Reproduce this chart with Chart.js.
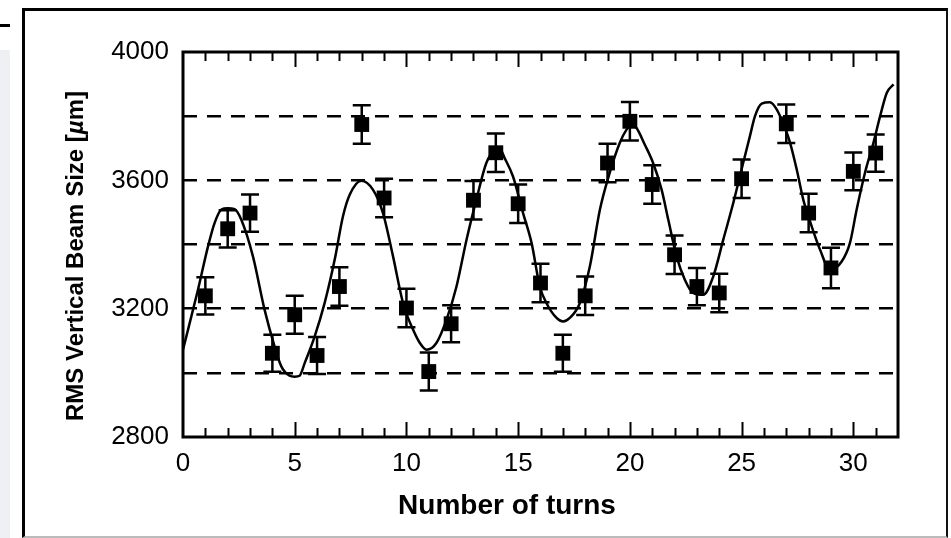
<!DOCTYPE html>
<html lang="en">
<head>
    <meta charset="UTF-8">
    <title>RMS Vertical Beam Size vs Number of turns</title>
    <script src="https://cdn.jsdelivr.net/npm/chart.js"></script>
    <style>
        html, body {
            margin: 0;
            padding: 0;
            background: #fff;
        }
        body {
            width: 951px;
            height: 538px;
            position: relative;
            overflow: hidden;
        }
        .frame {
            position: absolute;
            left: 22px;
            top: 8px;
            width: 921px;
            height: 525px;
            border-left: 3px solid #000;
            border-top: 3px solid #000;
            border-right: 2px solid #111;
            border-bottom: 2px solid #bbb;
        }
        .side {
            position: absolute;
            left: 0;
            top: 50px;
            width: 10px;
            height: 488px;
            background: #eef0f4;
        }
        .dash {
            position: absolute;
            left: 0;
            top: 24px;
            width: 10px;
            height: 3px;
            background: #000;
        }
        canvas {
            position: absolute;
            left: 0;
            top: 0;
        }
    </style>
</head>
<body>
    <div class="side"></div>
    <div class="dash"></div>
    <div class="frame"></div>
    <canvas id="chart" width="951" height="538"></canvas>

    <script>
        // measured turns and beam size (um), with error bar half-widths
        const turns = [1, 2, 3, 4, 5, 6, 7, 8, 9, 10, 11, 12, 13, 14, 15, 16, 17, 18, 19, 20, 21, 22, 23, 24, 25, 27, 28, 29, 30, 31];
        const beamSize = [3240, 3449, 3498, 3061, 3181, 3054, 3269, 3774, 3545, 3202, 3004, 3153, 3538, 3686, 3527,
                          3280, 3061, 3240, 3654, 3784, 3587, 3368, 3269, 3249, 3605, 3776, 3498, 3327, 3628, 3685];
        const beamErr = [58, 58, 58, 58, 59, 58, 60, 60, 60, 60, 59, 58, 60, 60, 60,
                         60, 58, 60, 60, 60, 60, 60, 58, 60, 60, 60, 60, 63, 59, 58];

        // fitted curve
        const fitTurns = [0, 0.67, 1.12, 1.42, 1.72, 2.0, 2.31, 2.61, 3.13, 3.65, 4.1, 4.4, 4.77, 5.0, 5.22, 5.45, 5.89,
                          6.34, 6.79, 7.16, 7.46, 7.98, 8.5, 8.95, 9.4, 9.85, 10.3, 10.6, 10.9, 11.34, 11.79, 12.24,
                          12.69, 13.13, 13.58, 13.95, 14.2, 14.39, 14.77, 15.22, 15.6, 15.97, 16.27, 16.72, 17.01,
                          17.31, 17.76, 18.21, 18.66, 19.1, 19.55, 19.85, 20.1, 20.3, 20.67, 21.04, 21.42, 21.72,
                          22.09, 22.46, 22.83, 23.28, 23.73, 24.18, 24.63, 25.07, 25.37, 25.6, 25.9, 26.27, 26.57,
                          26.9, 27.17, 27.47, 27.76, 28.14, 28.51, 28.96, 29.48, 29.85, 30.15, 30.52, 30.9, 31.2,
                          31.5, 31.8];
        const fitSize = [3072, 3259, 3394, 3468, 3509, 3513, 3510, 3477, 3363, 3197, 3082, 3020, 2991, 2988, 2991, 3031, 3113,
                         3218, 3353, 3488, 3555, 3599, 3571, 3498, 3363, 3217, 3134, 3093, 3072, 3093, 3165, 3269,
                         3415, 3540, 3655, 3692, 3695, 3670, 3612, 3498, 3405, 3269, 3217, 3171, 3160,
                         3171, 3217, 3332, 3509, 3624, 3717, 3758, 3775, 3763, 3711, 3654, 3571, 3477,
                         3363, 3290, 3249, 3243, 3300, 3415, 3530, 3654, 3737, 3800, 3839, 3843, 3821,
                         3770, 3717, 3633, 3540, 3456, 3384, 3321, 3347, 3405, 3509, 3623, 3717, 3800,
                         3873, 3899];

        const xMin = 0, xMax = 32;
        const yMin = 2800, yMax = 4000;
        const xTitle = 'Number of turns';
        const yTitleParts = [['RMS Vertical Beam Size [', ''], ['µ', 'italic '], ['m]', '']];

        const fontFamily = '"Liberation Sans", Arial, Helvetica, sans-serif';

        // frame, inward ticks, error bars and axis titles
        const framePlugin = {
            id: 'frame',
            beforeDatasetsDraw(chart) {
                const ctx = chart.ctx;
                const xs = chart.scales.x, ys = chart.scales.y;
                ctx.save();
                ctx.strokeStyle = '#000';
                ctx.lineWidth = 2.5;
                for (let i = 0; i < turns.length; i++) {
                    const px = xs.getPixelForValue(turns[i]);
                    const top = ys.getPixelForValue(beamSize[i] + beamErr[i]);
                    const bot = ys.getPixelForValue(beamSize[i] - beamErr[i]);
                    ctx.beginPath();
                    ctx.moveTo(px, top);
                    ctx.lineTo(px, bot);
                    ctx.moveTo(px - 9, top);
                    ctx.lineTo(px + 9, top);
                    ctx.moveTo(px - 9, bot);
                    ctx.lineTo(px + 9, bot);
                    ctx.stroke();
                }
                ctx.restore();
            },
            afterDraw(chart) {
                const ctx = chart.ctx;
                const a = chart.chartArea;
                const xs = chart.scales.x;
                ctx.save();
                ctx.strokeStyle = '#000';
                ctx.lineWidth = 2;
                ctx.beginPath();
                for (let t = xMin + 1; t < xMax; t++) {
                    const px = Math.round(xs.getPixelForValue(t)) + 0.5;
                    const len = t % 5 === 0 ? 15 : 9;
                    ctx.moveTo(px, a.top);
                    ctx.lineTo(px, a.top + len);
                    ctx.moveTo(px, a.bottom);
                    ctx.lineTo(px, a.bottom - len);
                }
                ctx.stroke();
                ctx.lineWidth = 3;
                ctx.strokeRect(a.left, a.top, a.right - a.left, a.bottom - a.top);

                // axis titles (the original sits a bit off the plot centre)
                ctx.fillStyle = '#000';
                ctx.textBaseline = 'middle';
                ctx.textAlign = 'center';
                ctx.font = 'bold 28px ' + fontFamily;
                ctx.fillText(xTitle, 507, 506);

                ctx.translate(76, 256);
                ctx.rotate(-Math.PI / 2);
                ctx.textAlign = 'left';
                let total = 0;
                const widths = yTitleParts.map(([s, style]) => {
                    ctx.font = style + 'bold 24px ' + fontFamily;
                    const w = ctx.measureText(s).width;
                    total += w;
                    return w;
                });
                let pos = -total / 2;
                yTitleParts.forEach(([s, style], i) => {
                    ctx.font = style + 'bold 24px ' + fontFamily;
                    ctx.fillText(s, pos, 0);
                    pos += widths[i];
                });
                ctx.restore();
            }
        };

        new Chart(document.getElementById('chart'), {
            type: 'scatter',
            data: {
                datasets: [
                    {
                        label: 'Measured',
                        data: turns.map((t, i) => ({ x: t, y: beamSize[i] })),
                        pointStyle: 'rect',
                        pointRadius: 10.5,
                        pointHoverRadius: 10.5,
                        backgroundColor: '#000',
                        borderWidth: 0,
                        showLine: false
                    },
                    {
                        label: 'Fit',
                        data: fitTurns.map((t, i) => ({ x: t, y: fitSize[i] })),
                        showLine: true,
                        pointRadius: 0,
                        borderColor: '#000',
                        borderWidth: 2.5,
                        cubicInterpolationMode: 'monotone',
                        fill: false
                    }
                ]
            },
            options: {
                responsive: false,
                animation: false,
                devicePixelRatio: 1,
                layout: {
                    padding: { left: 0, top: 52, right: 53, bottom: 0 }
                },
                plugins: {
                    legend: { display: false },
                    tooltip: { enabled: false }
                },
                scales: {
                    x: {
                        type: 'linear',
                        min: xMin,
                        max: xMax,
                        afterFit: scale => { scale.height = 101; },
                        grid: { display: false, drawTicks: false },
                        border: { display: false },
                        ticks: {
                            stepSize: 5,
                            includeBounds: false,
                            padding: 11,
                            color: '#000',
                            maxRotation: 0,
                            font: { family: fontFamily, size: 26 }
                        }
                    },
                    y: {
                        min: yMin,
                        max: yMax,
                        afterFit: scale => { scale.width = 183; },
                        grid: {
                            drawTicks: false,
                            lineWidth: 2.5,
                            color: c => (c.tick && c.tick.value > yMin && c.tick.value < yMax) ? '#000' : 'rgba(0,0,0,0)'
                        },
                        border: { display: false, dash: [14, 10] },
                        ticks: {
                            stepSize: 200,
                            padding: 14,
                            color: '#000',
                            font: { family: fontFamily, size: 26 },
                            callback: v => (v % 400 === 0 ? String(v) : '')
                        }
                    }
                }
            },
            plugins: [framePlugin]
        });
    </script>
</body>
</html>
